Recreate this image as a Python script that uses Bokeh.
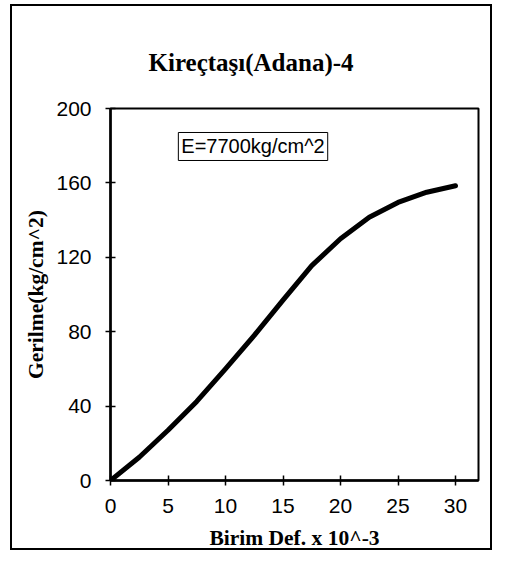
from bokeh.plotting import figure
from bokeh.models import Range1d, FixedTicker, Label
from bokeh.embed import file_html
from bokeh.resources import INLINE

title_text = "Kireçtaşı(Adana)-4"
x_label = "Birim Def. x 10^-3"
y_label = "Gerilme(kg/cm^2)"
note_text = "E=7700kg/cm^2"

strain = [0, 2.5, 5, 7.5, 10, 12.5, 15, 17.5, 20, 22.5, 25, 27.5, 30]
stress = [0, 12.5, 27, 42.5, 60, 78, 97, 115.5, 130, 141.5, 149.5, 155, 158.5]

x_ticks = [0, 5, 10, 15, 20, 25, 30]
y_ticks = [0, 40, 80, 120, 160, 200]

p = figure(width=482, height=546, output_backend="svg", toolbar_location=None,
           x_range=Range1d(0, 32), y_range=Range1d(0, 200),
           min_border_left=98, min_border_right=16, min_border_top=102, min_border_bottom=71)
p.margin = (4, 0, 0, 10)
p.styles = {"border": "2px solid black"}
p.background_fill_color = "white"
p.border_fill_color = "white"
p.grid.visible = False
p.outline_line_color = "black"
p.outline_line_width = 2

p.title.text = title_text
p.title.align = "left"
p.title.offset = 38
p.title.text_font = "Liberation Serif"
p.title.text_font_style = "bold"
p.title.text_font_size = "25px"
p.title.text_color = "black"
p.title.standoff = 65

p.line(strain, stress, line_color="black", line_width=5, line_cap="round", line_join="round")

for ax in (p.xaxis[0], p.yaxis[0]):
    ax.axis_line_width = 2.5
    ax.axis_line_color = "black"
    ax.major_tick_line_color = "black"
    ax.major_tick_line_width = 1.5
    ax.minor_tick_line_color = None
    ax.major_tick_in = 5
    ax.major_tick_out = 5
    ax.major_label_text_font = "Liberation Sans"
    ax.major_label_text_font_size = "21px"
    ax.major_label_text_color = "black"
    ax.axis_label_text_font = "Liberation Serif"
    ax.axis_label_text_font_style = "bold"
    ax.axis_label_text_font_size = "21.5px"
    ax.axis_label_text_color = "black"

p.xaxis[0].ticker = FixedTicker(ticks=x_ticks)
p.yaxis[0].ticker = FixedTicker(ticks=y_ticks)
p.xaxis[0].axis_label = x_label
p.yaxis[0].axis_label = y_label
p.xaxis[0].major_label_standoff = 13
p.yaxis[0].major_label_standoff = 14
p.xaxis[0].axis_label_standoff = 10
p.yaxis[0].axis_label_standoff = 5

note = Label(x=5.9, y=187.1, text=note_text, text_align="left", text_baseline="top",
             text_font="Liberation Sans", text_font_size="20px", text_color="black",
             border_line_color="black", border_line_width=1, background_fill_color="white",
             padding=3)
p.add_layout(note)

open("out.html", "w").write(file_html(p, INLINE))
